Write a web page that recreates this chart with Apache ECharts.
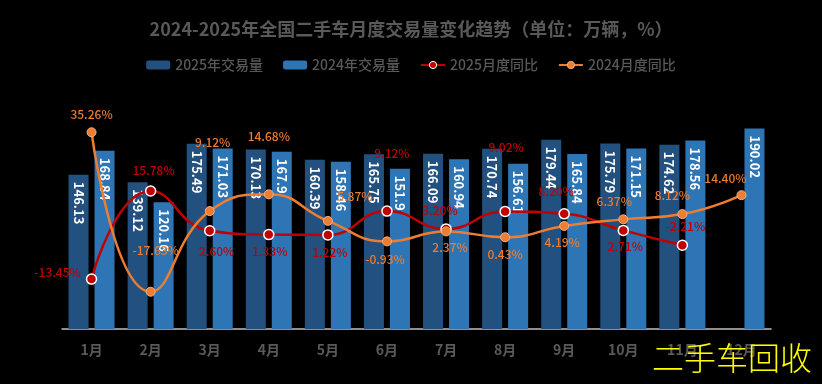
<!DOCTYPE html>
<html><head><meta charset="utf-8">
<script src="https://cdn.jsdelivr.net/npm/echarts@6/dist/echarts.min.js"></script>
<style>html,body{margin:0;padding:0;background:#000;}#c{width:822px;height:384px;}</style>
</head><body><div id="c"></div>
<script>
const categories = ['1月','2月','3月','4月','5月','6月','7月','8月','9月','10月','11月','12月'];
const vol2025 = [146.13,139.12,175.49,170.13,160.39,165.75,166.09,170.74,179.44,175.79,174.62,null];
const vol2024 = [168.84,120.16,171.03,167.90,158.46,151.90,160.94,156.61,165.84,171.15,178.56,190.02];
const yoy2025 = [-13.45,15.78,2.60,1.33,1.22,9.12,3.20,9.02,8.20,2.71,-2.21,null];
const yoy2024 = [35.26,-17.63,9.12,14.68,5.87,-0.93,2.37,0.43,4.19,6.37,8.12,14.40];
// label placement offsets (layout only)
const off2025 = [[-34,-7],[3,-21],[7,21],[1,17],[2,18],[5,-58],[-6,-18],[1,-64],[-8,-22],[2,16],[3,-19]];
const off2024 = [[0,-18],[5,-41],[3,-69],[0,-58],[27,-24],[-2,18],[4,16],[0,17],[-2,16],[-9,-18],[-10,-19],[-16,-17]];

const FONT = '"Noto Sans CJK SC","Microsoft YaHei",sans-serif';
function lineData(vals, offs){
  return vals.map((v,i)=> v==null ? null : {value:v, label:{offset: offs[i]}});
}
const chart = echarts.init(document.getElementById('c'));
chart.setOption({
  backgroundColor:'#000',
  animation:false,
  title:{text:'2024-2025年全国二手车月度交易量变化趋势（单位：万辆，%）',left:'center',top:15,
    textStyle:{color:'#595959',fontSize:18,fontWeight:'bold',fontFamily:FONT}},
  legend:{top:53,left:'center',itemWidth:24,itemHeight:9,itemGap:20,
    textStyle:{color:'#595959',fontSize:14,fontWeight:500,fontFamily:FONT},
    data:[
      {name:'2025年交易量'},
      {name:'2024年交易量'},
      {name:'2025月度同比',itemStyle:{color:'#c00000',borderColor:'#fff',borderWidth:1}},
      {name:'2024月度同比',itemStyle:{color:'#ed7d31',borderColor:'#f4b183',borderWidth:1}}
    ]},
  grid:{left:62,right:51,top:118,bottom:55},
  xAxis:{type:'category',data:categories,
    axisLine:{lineStyle:{color:'#bfbfbf',width:1.5}},axisTick:{show:false},
    axisLabel:{color:'#595959',fontSize:14,fontWeight:'bold',fontFamily:FONT,margin:14}},
  yAxis:[
    {type:'value',min:0,max:200,show:false,splitLine:{show:false}},
    {type:'value',min:-30,max:40,show:false,splitLine:{show:false}}
  ],
  series:[
    {name:'2025年交易量',type:'bar',data:vol2025,barWidth:20,barGap:'30%',
      itemStyle:{color:'#22507f'},
      label:{show:true,position:'insideTop',rotate:-90,align:'left',verticalAlign:'middle',distance:7,
        color:'#fff',fontSize:13,fontWeight:'bold',fontFamily:FONT}},
    {name:'2024年交易量',type:'bar',data:vol2024,barWidth:20,
      itemStyle:{color:'#2e75b6'},
      label:{show:true,position:'insideTop',rotate:-90,align:'left',verticalAlign:'middle',distance:7,
        color:'#fff',fontSize:13,fontWeight:'bold',fontFamily:FONT}},
    {name:'2025月度同比',type:'line',yAxisIndex:1,smooth:true,data:lineData(yoy2025,off2025),
      symbol:'circle',symbolSize:10,
      lineStyle:{color:'#c00000',width:2.5},
      itemStyle:{color:'#c00000',borderColor:'#fff',borderWidth:1.5},
      label:{show:true,position:'inside',color:'#c00000',fontSize:12,fontWeight:500,fontFamily:FONT,
        formatter:p=>p.value.toFixed(2)+'%'}},
    {name:'2024月度同比',type:'line',yAxisIndex:1,smooth:true,data:lineData(yoy2024,off2024),
      symbol:'circle',symbolSize:9,
      lineStyle:{color:'#ed7d31',width:2.5},
      itemStyle:{color:'#ed7d31',borderColor:'#f4b183',borderWidth:1},
      label:{show:true,position:'inside',color:'#ed7d31',fontSize:12,fontWeight:500,fontFamily:FONT,
        formatter:p=>p.value.toFixed(2)+'%'}}
  ],
  graphic:[{type:'text',right:10,top:342,z:100,
    style:{text:'二手车回收',fill:'#ffff00',fontSize:32,fontFamily:FONT,fontWeight:300}}]
});
</script></body></html>
